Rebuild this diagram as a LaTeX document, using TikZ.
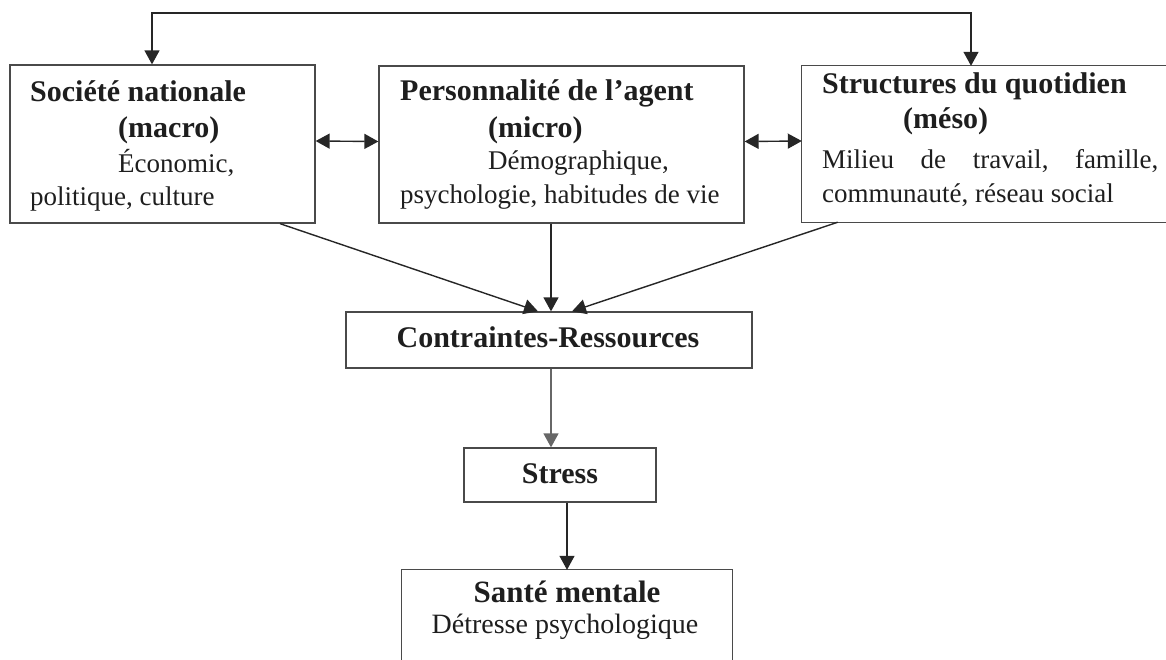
\documentclass[tikz,border=0pt]{standalone}
\usepackage{fontspec}
\setmainfont{Liberation Serif}
\usetikzlibrary{arrows.meta}
\definecolor{boxgray}{HTML}{4A4A4A}
\definecolor{linegray}{HTML}{262626}
\definecolor{textgray}{HTML}{1E1E1E}
\tikzset{
  box/.style={draw=boxgray, line width=1.3pt, inner sep=0pt},
  frame/.style={inner sep=0pt},
  opensides/.style={draw=boxgray, line width=1.3pt},
  title/.style={font=\fontsize{30}{36}\selectfont\bfseries, text=textgray, inner sep=0pt},
  body/.style={font=\fontsize{27}{33}\selectfont, text=textgray, inner sep=0pt},
  tip/.tip={Triangle[length=14pt,width=15pt]},
  arr/.style={draw=linegray, line width=1.4pt, -tip},
  dbl/.style={draw=linegray, line width=1.4pt, tip-tip},
}
\begin{document}
\begin{tikzpicture}[x=1pt,y=-1pt]
\useasboundingbox (0,0) rectangle (1166,659);

% --- upper row: three levels ---
\node[box, minimum width=305pt, minimum height=158pt] (soc) at (162.5,144) {};
\node[box, minimum width=365pt, minimum height=157pt] (pers) at (561.5,144.5) {};
\node[frame, minimum width=364pt, minimum height=156pt] (str) at (984,144) {};
\draw[opensides] (str.north east) -- (str.north west) -- (str.south west) -- (str.south east);

% text of the macro box
\node[title, anchor=base west] (socA) at (30,101) {Société nationale};
\node[title, anchor=base west] (socB) at (118,137) {(macro)};
\node[body, anchor=base west] (socC) at (118,172) {Économic,};
\node[body, anchor=base west] (socD) at (30,205) {politique, culture};

% text of the micro box
\node[title, anchor=base west] (persA) at (400,100) {Personnalité de l’agent};
\node[title, anchor=base west] (persB) at (488,137) {(micro)};
\node[body, anchor=base west] (persC) at (488,169) {Démographique,};
\node[body, anchor=base west] (persD) at (400,203) {psychologie, habitudes de vie};

% text of the meso box
\node[title, anchor=base west] (strA) at (822,93) {Structures du quotidien};
\node[title, anchor=base west] (strB) at (903,128) {(méso)};
\node[body, anchor=base west] (strC) at (822,168) {\makebox[336pt][s]{Milieu\hfill de\hfill travail,\hfill famille,}};
\node[body, anchor=base west] (strD) at (822,202) {communauté, réseau social};

% --- lower chain ---
\node[box, minimum width=406pt, minimum height=56pt] (con) at (549,340) {};
\node[title, anchor=base] (conT) at (548,347) {Contraintes-Ressources};

\node[box, minimum width=192pt, minimum height=54pt] (stress) at (560,475) {};
\node[title, anchor=base] (stressT) at (560,483) {Stress};

\node[frame, minimum width=330pt, minimum height=100pt] (san) at (567,620) {};
\draw[opensides] (san.south west) -- (san.north west) -- (san.north east) -- (san.south east);
\node[title, font=\fontsize{31}{36}\selectfont\bfseries, anchor=base] (sanA) at (567,602) {Santé mentale};
\node[body, font=\fontsize{28}{34}\selectfont, anchor=base] (sanB) at (565,633) {Détresse psychologique};

% --- feedback loop between macro and meso ---
\coordinate (fbL) at (152,13);
\coordinate (fbR) at (971,13);
\draw[dbl] (fbL |- soc.north) -- (fbL) -- (fbR) -- (fbR |- str.north);

% --- mutual links in the upper row ---
\draw[dbl] ([yshift=3pt]soc.east) -- ([yshift=3pt]pers.west);
\draw[dbl] ([yshift=3pt]pers.east) -- ([yshift=3pt]str.west);

% --- converging links ---
\draw[arr] ([xshift=117.5pt]soc.south) -- ([xshift=-11pt]con.north);
\draw[arr] ([xshift=-10.5pt]pers.south) -- ([xshift=2pt]con.north);
\draw[arr] ([xshift=36pt]str.south west) -- ([xshift=23pt]con.north);

% --- chain downwards ---
\draw[arr, draw=linegray!70] ([xshift=2pt]con.south) -- ([xshift=2pt]con.south |- stress.north);
\draw[arr] ([xshift=7pt]stress.south) -- ([xshift=7pt]stress.south |- san.north);
\end{tikzpicture}
\end{document}
